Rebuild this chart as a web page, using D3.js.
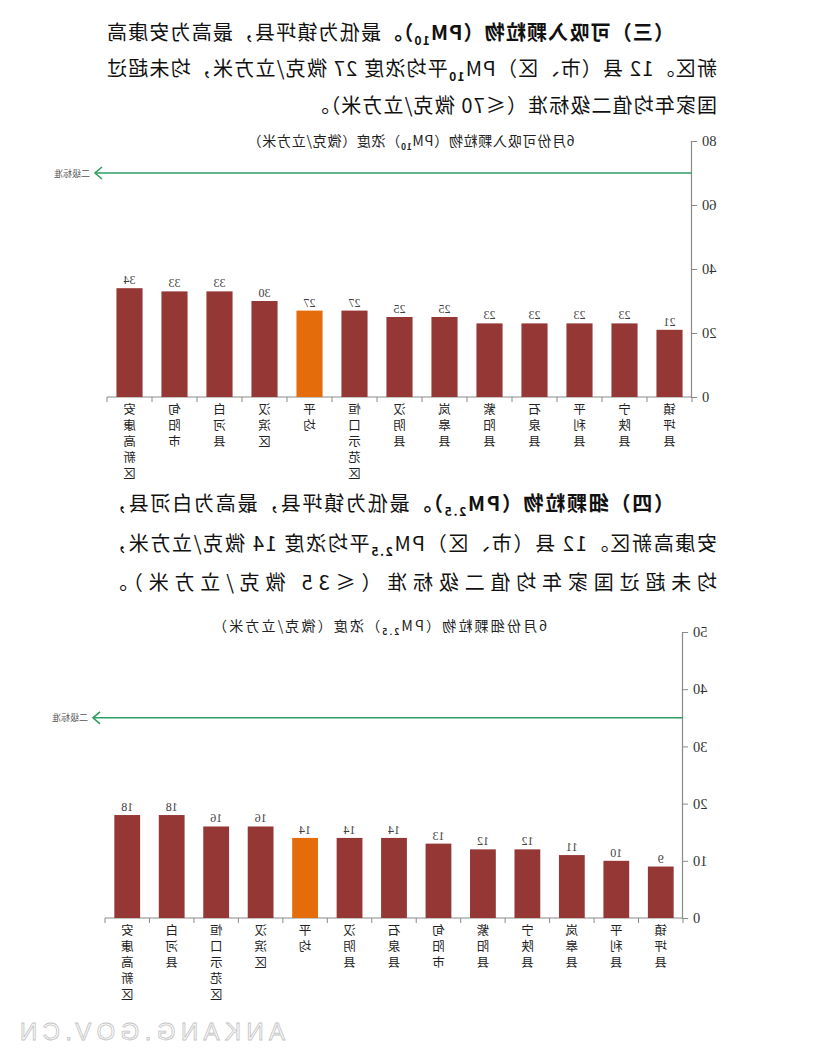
<!DOCTYPE html>
<html><head><meta charset="utf-8">
<script src="https://cdn.jsdelivr.net/npm/d3@7/dist/d3.min.js"></script>
<style>html,body{margin:0;padding:0;background:#fff;} svg{display:block;}</style>
</head><body>
<svg id="page" width="827" height="1061"></svg>
<script>
// ---------- data ----------
const pm10Categories = ["安康高新区","旬阳市","白河县","汉滨区","平均","恒口示范区","汉阴县","岚皋县","紫阳县","石泉县","平利县","宁陕县","镇坪县"];
const pm10Values = [34,33,33,30,27,27,25,25,23,23,23,23,21];
const pm10Ticks = [0,20,40,60,80];
const pm10Standard = 70;

const pm25Categories = ["安康高新区","白河县","恒口示范区","汉滨区","平均","汉阴县","石泉县","旬阳市","紫阳县","宁陕县","岚皋县","平利县","镇坪县"];
const pm25Values = [18,18,16,16,14,14,14,13,12,12,11,10,9];
const pm25Ticks = [0,10,20,30,40,50];
const pm25Standard = 35;

const standardLabel = "二级标准";
const averageLabel = "平均";
const watermarkText = "ANKANG.GOV.CN";

const pm10TitleParts = [["6月份可吸入颗粒物（PM",""],["10","sub"],["）浓度（微克/立方米）",""]];
const pm25TitleParts = [["6月份细颗粒物（PM",""],["2.5","sub"],["）浓度（微克/立方米）",""]];

const para3Lines = [
  [["（三）可吸入颗粒物（PM","b"],["10","bsub"],["）。","b"],["最低为镇坪县，最高为安康高",""]],
  [["新区。12 县（市、区）PM",""],["10","sub"],["平均浓度 27 微克/立方米，均未超过",""]],
  [["国家年均值二级标准（≤70 微克/立方米）。",""]]
];
const para4Lines = [
  [["（四）细颗粒物（PM","b"],["2.5","bsub"],["）。","b"],["最低为镇坪县，最高为白河县，",""]],
  [["安康高新区。12 县（市、区）PM",""],["2.5","sub"],["平均浓度 14 微克/立方米，",""]],
  [["均未超过国家年均值二级标准（≤35 微克/立方米）。",""]]
];

// ---------- drawing ----------
const W = 827;
const svg = d3.select("#page");
// the reference picture is a horizontally mirrored page
const root = svg.append("g").attr("transform", `translate(${W},0) scale(-1,1)`);

const CJK = "'Noto Sans CJK SC','Noto Sans',sans-serif";
const SERIF = "'Liberation Serif','DejaVu Serif',serif";
const BAR = "#953735", AVG = "#E46C0A", GREEN = "#2E9E62";

function richText(g, parts, size, opts) {
  const t = g.append("text")
    .attr("x", opts.x).attr("y", opts.y)
    .attr("font-family", CJK).attr("font-size", size)
    .attr("fill", opts.fill || "#111")
    .attr("text-anchor", opts.anchor || "start");
  if (opts.len) t.attr("textLength", opts.len).attr("lengthAdjust", "spacing");
  let shifted = false;
  parts.forEach(([s, style]) => {
    const sp = t.append("tspan").text(s);
    const isSub = style.includes("sub");
    if (style.includes("b")) sp.attr("font-weight", "bold");
    if (isSub) { sp.attr("font-size", size * 0.6).attr("dy", size * 0.25); shifted = true; }
    else if (shifted) { sp.attr("dy", -size * 0.25); shifted = false; }
  });
  return t;
}

function paragraph(lines, layout) {
  lines.forEach((parts, i) => {
    const L = layout[i];
    richText(root, parts, 20, {x: L.x, y: L.y, len: L.len, fill: "#111"});
  });
}

paragraph(para3Lines, [
  {x:153, y:40, len:567},
  {x:110, y:76, len:610},
  {x:110, y:113, len:408}
]);
paragraph(para4Lines, [
  {x:153, y:511, len:567},
  {x:110, y:551, len:610},
  {x:110, y:590, len:610}
]);

function drawChart(cfg) {
  const g = root.append("g");
  const y = d3.scaleLinear().domain([0, d3.max(cfg.ticks)]).range([cfg.y0, cfg.yTop]);
  const x = d3.scaleBand().domain(cfg.categories)
    .range([cfg.xEnd, cfg.axisX]).paddingInner(0.42).paddingOuter(0.21);

  // y axis
  const ya = g.append("g").attr("transform", `translate(${cfg.axisX},0)`)
    .call(d3.axisLeft(y).tickValues(cfg.ticks).tickSize(5).tickPadding(5).tickFormat(d3.format("d")));
  ya.select(".domain").attr("stroke", "#8a8a8a").attr("stroke-width", 1.2);
  ya.selectAll(".tick line").attr("stroke", "#8a8a8a");
  ya.selectAll(".tick text").attr("font-family", SERIF).attr("font-size", 14.5).attr("fill", "#333");

  // x axis line with boundary ticks
  g.append("line").attr("x1", cfg.axisX).attr("x2", cfg.xEnd)
    .attr("y1", cfg.y0).attr("y2", cfg.y0).attr("stroke", "#8a8a8a").attr("stroke-width", 1.2);
  const gap = (x.step() - x.bandwidth()) / 2;
  const bounds = cfg.categories.map(c => x(c) - gap).concat([cfg.xEnd]);
  g.selectAll(".xt").data(bounds).join("line")
    .attr("x1", d => d).attr("x2", d => d)
    .attr("y1", cfg.y0).attr("y2", cfg.y0 + 5).attr("stroke", "#8a8a8a");

  const data = cfg.categories.map((c, i) => ({c, v: cfg.values[i]}));
  g.selectAll(".bar").data(data).join("rect")
    .attr("x", d => x(d.c)).attr("width", x.bandwidth())
    .attr("y", d => y(d.v)).attr("height", d => y(0) - y(d.v))
    .attr("fill", d => d.c === averageLabel ? AVG : BAR);

  g.selectAll(".val").data(data).join("text")
    .attr("x", d => x(d.c) + x.bandwidth() / 2).attr("y", d => y(d.v) - 4)
    .attr("text-anchor", "middle").attr("font-family", SERIF).attr("font-size", 12)
    .attr("fill", "#404040").text(d => d.v);

  // vertical category labels (one text per label, set vertically)
  g.selectAll(".cat").data(data).join("text")
    .attr("x", d => x(d.c) + x.bandwidth() / 2)
    .attr("y", cfg.y0 + 6)
    .attr("writing-mode", "vertical-rl")
    .style("text-orientation", "upright")
    .attr("letter-spacing", 3.5)
    .attr("font-family", CJK).attr("font-size", 12.5).attr("fill", "#222")
    .text(d => d.c);

  // standard line
  const sy = y(cfg.standard);
  g.append("line").attr("x1", cfg.axisX).attr("x2", cfg.tipX)
    .attr("y1", sy).attr("y2", sy).attr("stroke", GREEN).attr("stroke-width", 1.6);
  g.append("path").attr("d", `M${cfg.tipX - 7},${sy - 6}L${cfg.tipX},${sy}L${cfg.tipX - 7},${sy + 6}`)
    .attr("fill", "none").attr("stroke", GREEN).attr("stroke-width", 1.6);
  g.append("text").attr("x", cfg.tipX + 5).attr("y", sy + 3.5)
    .attr("font-family", CJK).attr("font-size", 9).attr("fill", "#555").text(standardLabel);

  // title
  richText(g, cfg.title, 14, {x: cfg.titleX, y: cfg.titleY, anchor: "middle", fill: "#222", len: cfg.titleLen});
}

drawChart({
  categories: pm10Categories, values: pm10Values, ticks: pm10Ticks, standard: pm10Standard,
  axisX: 135, xEnd: 720, y0: 397, yTop: 141, tipX: 732,
  title: pm10TitleParts, titleX: 416, titleY: 146, titleLen: 327
});
drawChart({
  categories: pm25Categories, values: pm25Values, ticks: pm25Ticks, standard: pm25Standard,
  axisX: 144, xEnd: 722, y0: 918, yTop: 632, tipX: 734,
  title: pm25TitleParts, titleX: 447, titleY: 631, titleLen: 334
});

// watermark
root.append("text").attr("x", 542).attr("y", 1040)
  .attr("textLength", 265).attr("lengthAdjust", "spacing")
  .attr("font-family", "'Liberation Sans','DejaVu Sans',sans-serif").attr("font-size", 24)
  .attr("fill", "#fbfbfb").attr("stroke", "#c4c4c4").attr("stroke-width", 0.8)
  .text(watermarkText);
</script>
</body></html>
